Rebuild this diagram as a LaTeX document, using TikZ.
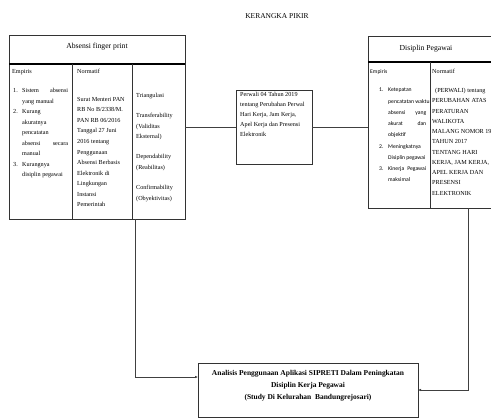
\documentclass[tikz,border=0pt]{standalone}
\usepackage{fontspec}
\setmainfont{Liberation Serif}
\newfontfamily\calib{Carlito}
\usetikzlibrary{arrows.meta}
\newcommand\lnum[1]{\makebox[9bp][l]{#1}}
\newcommand\ind{\hspace*{9bp}}
\newcommand\jus[2]{\makebox[#1][s]{#2}}
\begin{document}
\begin{tikzpicture}[x=1bp,y=-1bp,
  box/.style={draw=black!80, line width=0.8bp, inner sep=0, outer sep=0},
  headline/.style={draw=black, line width=1.3bp},
  divline/.style={draw=black!80, line width=0.8bp},
  txt/.style={anchor=north west, inner sep=0, align=left, font=\fontsize{6.2}{10.6}\selectfont},
  stxt/.style={anchor=north west, inner sep=0, align=left, font=\calib\fontsize{5.7}{11.3}\selectfont},
  head/.style={inner sep=0, font=\fontsize{7.7}{9}\selectfont},
  conn/.style={draw=black!75, line width=0.8bp},
  arr/.style={conn, -{Latex[length=3bp,width=2.6bp]}}]
\useasboundingbox (0,0) rectangle (491,419);

\node[head, font=\fontsize{7.5}{9}\selectfont] (title) at (277,16) {KERANGKA PIKIR};

% left box
\node[box, minimum width=176bp, minimum height=184bp] (absensi) at (97,127) {};
\draw[headline] (9,64) -- (185,64);
\draw[divline] (72,64) -- (72,219);
\draw[divline] (132,64) -- (132,219);
\node[head] (absh) at (97,47) {Absensi finger print};
\node[txt] (lemp) at (12,69) {Empiris};
\node[txt] (llist) at (13,88) {\lnum{1.}\jus{46bp}{Sistem absensi}\\
\ind yang manual\\
\lnum{2.}Kurang\\
\ind akuratnya\\
\ind pencatatan\\
\ind\jus{46bp}{absensi secara}\\
\ind manual\\
\lnum{3.}Kurangnya\\
\ind disiplin pegawai};
\node[txt] (lnorm) at (77,69) {Normatif};
\node[txt] (lsurat) at (77,97) {Surat Menteri PAN\\
RB No B/2338/M.\\
PAN RB 06/2016\\
Tanggal 27 Juni\\
2016 tentang\\
Penggunaan\\
Absensi Berbasis\\
Elektronik di\\
Lingkungan\\
Instansi\\
Pemerintah};
\node[txt] (ltri) at (136,93) {Triangulasi};
\node[txt] (ltrans) at (136,113) {Transferability\\(Validitas\\Eksternal)};
\node[txt] (ldep) at (136,154) {Dependability\\(Reabilitas)};
\node[txt] (lconf) at (136,185) {Confirmability\\(Obyektivitas)};

% middle box
\node[box, minimum width=76bp, minimum height=74bp] (perwali) at (274,127) {};
\node[txt, font=\fontsize{6.2}{10}\selectfont] (perwalit) at (240,92) {Perwali 04 Tahun 2019\\
tentang Perubahan Perwal\\
Hari Kerja, Jam Kerja,\\
Apel Kerja dan Presensi\\
Elektronik};

% right box
\node[box, minimum width=128bp, minimum height=172bp] (disiplin) at (432,122) {};
\draw[headline] (368,62) -- (496,62);
\draw[divline] (430,62) -- (430,208);
\node[head] (disih) at (426,49) {Disiplin Pegawai};
\node[stxt] (remp) at (370,69) {Empiris};
\node[stxt] (rlist) at (379,88) {\lnum{1.}Ketepatan\\
\ind pencatatan waktu\\
\ind\jus{38bp}{absensi yang}\\
\ind\jus{38bp}{akurat dan}\\
\ind objektif\\
\lnum{2.}Meningkatnya\\
\ind Disiplin pegawai\\
\lnum{3.}\jus{38bp}{Kinerja Pegawai}\\
\ind maksimal};
\node[txt] (rnorm) at (432,69) {Normatif};
\node[txt, font=\fontsize{6.2}{10.3}\selectfont] (rperwali) at (432,88) {\hspace*{3bp}(PERWALI) tentang\\
PERUBAHAN ATAS\\
PERATURAN\\
WALIKOTA\\
MALANG NOMOR 19\\
TAHUN 2017\\
TENTANG HARI\\
KERJA, JAM KERJA,\\
APEL KERJA DAN\\
PRESENSI\\
ELEKTRONIK};

% bottom box
\node[box, minimum width=220bp, minimum height=54bp] (analisis) at (308,390) {};
\node[inner sep=0, align=center, font=\bfseries\fontsize{7.5}{12}\selectfont] (analisist) at (308,386) {Analisis Penggunaan Aplikasi SIPRETI Dalam Peningkatan\\
Disiplin Kerja Pegawai\\
(Study Di Kelurahan\ \ Bandungrejosari)};

% connectors
\coordinate (lstart) at (135,219);
\coordinate (rstart) at (468,208);
\draw[conn] (absensi.east) -- (perwali.west);
\draw[conn] (perwali.east) -- (perwali.east -| disiplin.west);
\draw[arr] (lstart) |- ([yshift=13bp]analisis.west);
\draw[arr] (rstart) |- (analisis.east);
\end{tikzpicture}
\end{document}
